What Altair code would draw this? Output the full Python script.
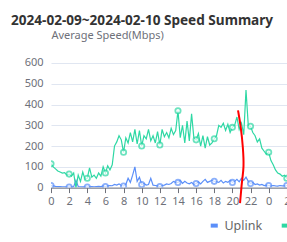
import altair as alt
import pandas as pd

# time of day in hours (15-minute samples), continuing past midnight
hours = [i * 0.25 for i in range(106)]

downlink = [
    115, 100, 90, 80, 75, 70, 72, 60,
    65, 55, 70, 0, 60, 30, 75, 40,
    45, 95, 50, 60, 45, 70, 55, 100,
    70, 105, 85, 110, 200, 220, 250, 230,
    170, 240, 215, 265, 220, 280, 210, 275,
    200, 250, 235, 280, 225, 250, 215, 270,
    205, 280, 245, 265, 240, 285, 255, 275,
    370, 240, 300, 215, 320, 225, 355, 240,
    230, 260, 200, 250, 190, 245, 205, 215,
    235, 250, 300, 290, 310, 275, 305, 265,
    290, 300, 340, 280, 310, 255, 470, 300,
    295, 265, 250, 220, 235, 190, 175, 160,
    170, 130, 110, 85, 70, 65, 55, 60,
    45, 100,
]

uplink = [
    10, 8, 6, 5, 5, 4, 4, 3,
    3, 3, 4, 35, 5, 4, 3, 4,
    3, 4, 5, 4, 5, 6, 5, 8,
    5, 8, 10, 9, 15, 12, 18, 10,
    8, 15, 45, 25, 60, 100, 30, 50,
    15, 20, 12, 15, 45, 12, 10, 8,
    5, 10, 12, 18, 15, 20, 30, 25,
    25, 35, 20, 30, 22, 18, 25, 15,
    20, 28, 18, 30, 40, 25, 30, 35,
    30, 28, 25, 35, 22, 30, 25, 35,
    25, 30, 40, 28, 45, 35, 50, 30,
    20, 25, 15, 18, 12, 15, 10, 12,
    10, 8, 10, 8, 7, 10, 8, 9,
    10, 12,
]

series_names = ["Uplink", "Downlink"]
series_colors = ["#5b8ff9", "#2ed8a4"]
x_ticks = list(range(0, 27, 2))
y_ticks = [0, 100, 200, 300, 400, 500, 600]

# hand-drawn red annotation stroke (hour, value)
mark_hours = [20.62, 20.95, 21.17, 21.28, 21.06, 20.95, 20.84]
mark_values = [372, 289, 193, 98, 35, -22, -75]

rows = []
for h, u, d in zip(hours, uplink, downlink):
    rows.append({"hour": h, "speed": u, "series": "Uplink"})
    rows.append({"hour": h, "speed": d, "series": "Downlink"})
df = pd.DataFrame(rows)

red_df = pd.DataFrame({"hour": mark_hours, "speed": mark_values,
                       "ord": list(range(len(mark_hours)))})

FONT = "Noto Sans"

x_enc = alt.X(
    "hour:Q",
    scale=alt.Scale(domain=[0, 26.02], nice=False, zero=False),
    axis=alt.Axis(values=x_ticks, labelExpr="datum.value % 24", grid=False,
                  domainColor="#6e7079", tickColor="#6e7079", tickSize=5,
                  labelColor="#6e7079", labelFontSize=11, labelPadding=3,
                  title=None, labelFlush=False, labelOverlap=False,
                  labelFont=FONT),
)
y_enc = alt.Y(
    "speed:Q",
    scale=alt.Scale(domain=[0, 600], nice=False),
    axis=alt.Axis(values=y_ticks, domain=False, ticks=False, gridColor="#e0e6f1",
                  labelColor="#6e7079", labelFontSize=11, labelPadding=8,
                  labelFont=FONT, labelOverlap=False,
                  title="Average Speed(Mbps)", titleAngle=0, titleX=0, titleY=-24,
                  titleAlign="left", titleBaseline="alphabetic",
                  titleFontWeight="normal", titleFontSize=11,
                  titleColor="#6e7079", titleFont=FONT),
)

series_scale = alt.Scale(domain=series_names, range=series_colors)
color_enc = alt.Color(
    "series:N",
    scale=series_scale,
    legend=alt.Legend(title=None, orient="none", legendX=157, legendY=156,
                      direction="horizontal", symbolType="stroke",
                      symbolStrokeWidth=4, symbolSize=50, labelFontSize=12.5,
                      labelColor="#666666", labelFont=FONT, columnPadding=10),
)

base = alt.Chart(df)
lines = base.mark_line(strokeWidth=1.2, clip=True).encode(
    x=x_enc, y=y_enc, color=color_enc
)
points = base.transform_filter("datum.hour % 2 == 0").mark_point(
    shape="circle", filled=True, fill="white", size=28, strokeWidth=1.8, clip=True
).encode(
    x=x_enc, y=y_enc,
    stroke=alt.Stroke("series:N", scale=series_scale, legend=None),
)
red = alt.Chart(red_df).mark_line(color="#ff0000", strokeWidth=2, clip=False,
                                  interpolate="basis").encode(
    x=x_enc, y=y_enc, order="ord:Q"
)

chart = alt.layer(lines, points, red).properties(
    width=236, height=124.6,
    padding={"left": 51, "top": 63, "right": 0, "bottom": 55},
    autosize="none",
    title=alt.TitleParams(text="2024-02-09~2024-02-10 Speed Summary", anchor="start",
                          frame="group", dx=-40, dy=2, fontSize=13.6, fontWeight="bold",
                          color="#333333", font=FONT),
).configure_view(stroke=None)

chart.save("out.html", embed_options={"renderer": "svg", "actions": False})
